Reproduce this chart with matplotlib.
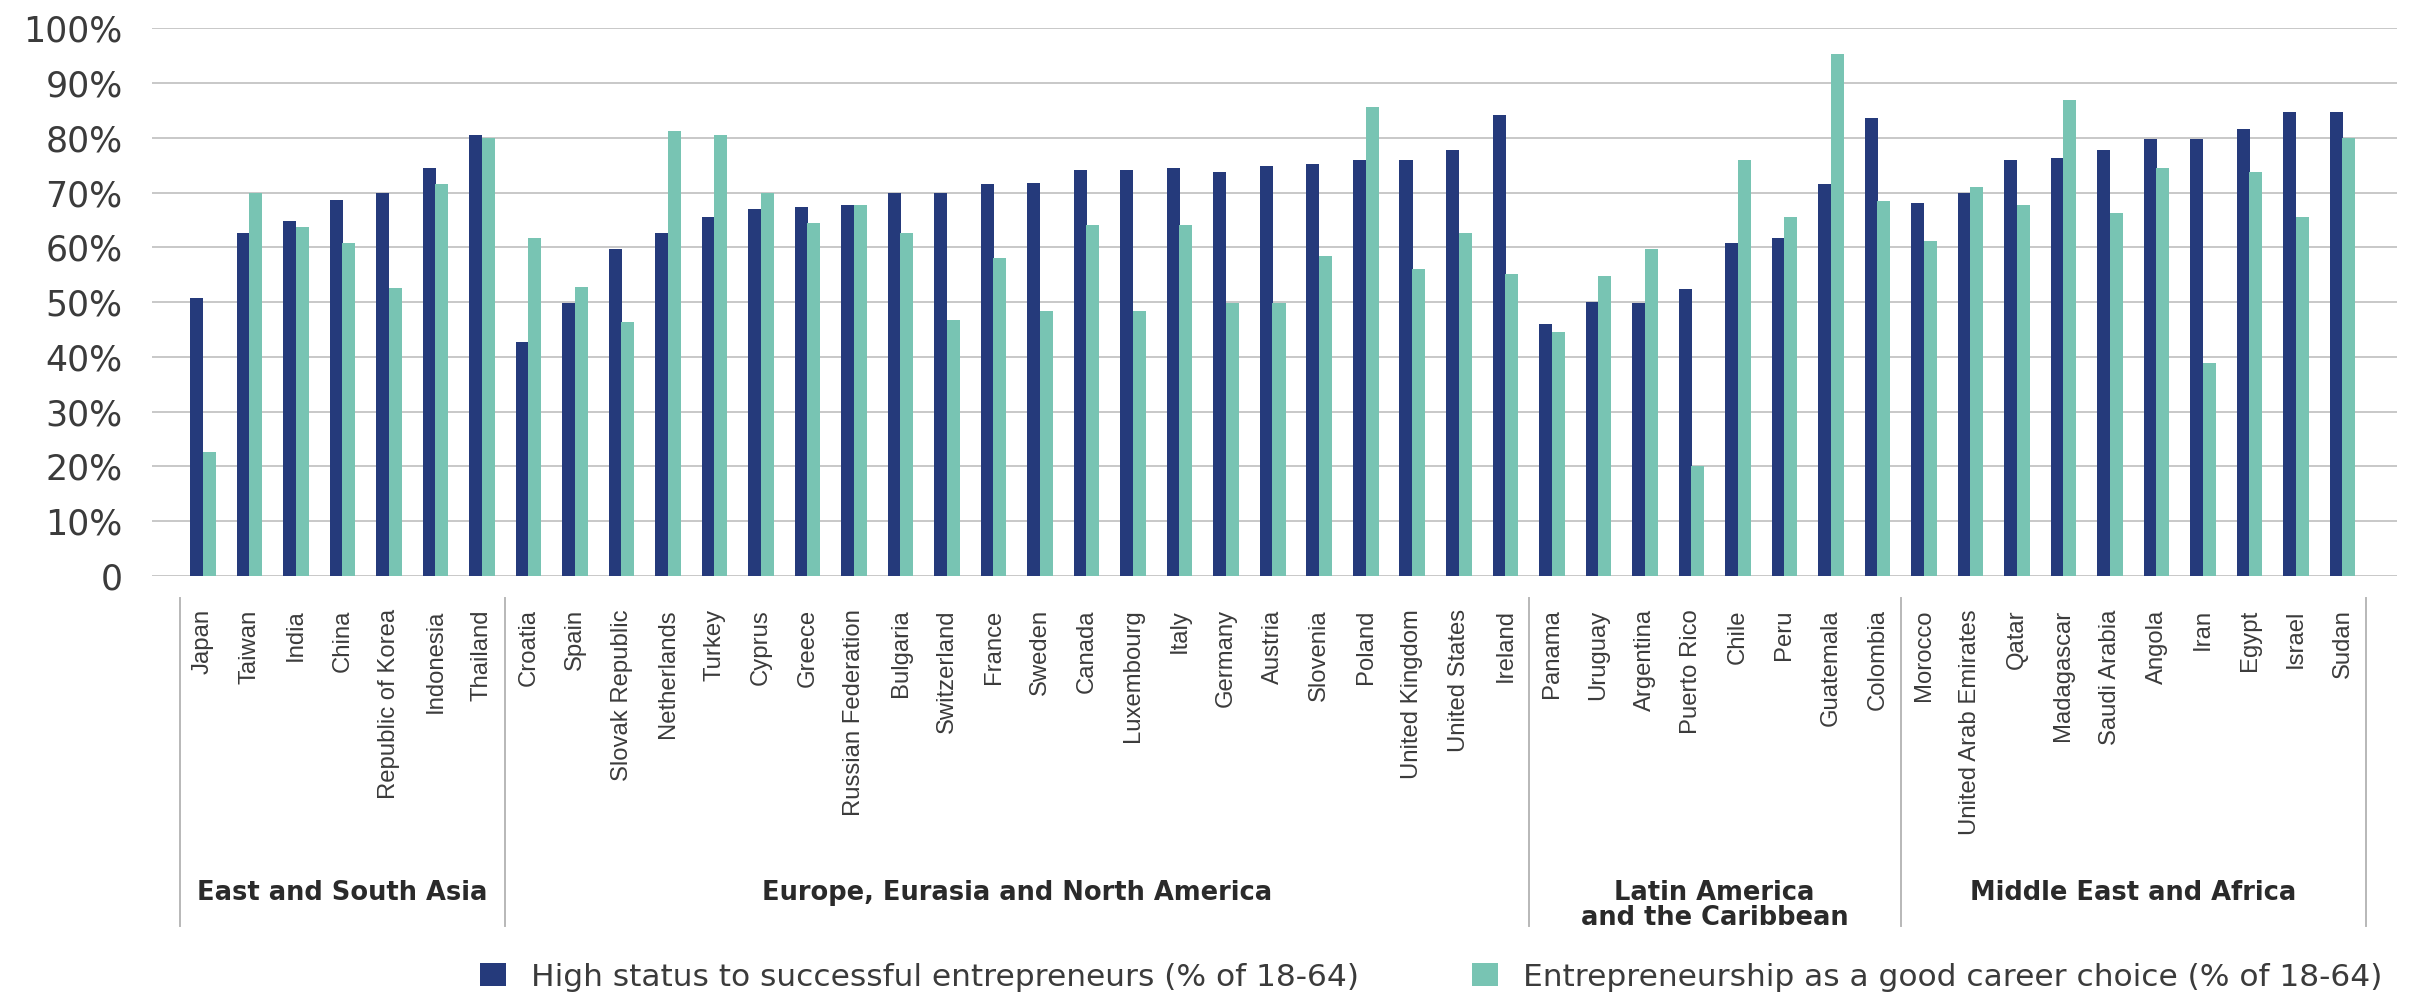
import matplotlib
matplotlib.use("Agg")
import matplotlib.pyplot as plt
from matplotlib import font_manager
from matplotlib.patches import Patch
from matplotlib.transforms import blended_transform_factory
import numpy as np

# ---- data -------------------------------------------------------------
region_names = [
    "East and South Asia",
    "Europe, Eurasia and North America",
    "Latin America\nand the Caribbean",
    "Middle East and Africa",
]

asia = ["Japan", "Taiwan", "India", "China", "Republic of Korea", "Indonesia", "Thailand"]
europe = ["Croatia", "Spain", "Slovak Republic", "Netherlands", "Turkey", "Cyprus", "Greece",
          "Russian Federation", "Bulgaria", "Switzerland", "France", "Sweden", "Canada",
          "Luxembourg", "Italy", "Germany", "Austria", "Slovenia", "Poland", "United Kingdom",
          "United States", "Ireland"]
latam = ["Panama", "Uruguay", "Argentina", "Puerto Rico", "Chile", "Peru", "Guatemala", "Colombia"]
mea = ["Morocco", "United Arab Emirates", "Qatar", "Madagascar", "Saudi Arabia", "Angola",
       "Iran", "Egypt", "Israel", "Sudan"]

# High status to successful entrepreneurs (% of 18-64)
high_status = [
    50.8, 62.7, 64.9, 68.6, 70.0, 74.5, 80.5,
    42.8, 49.8, 59.7, 62.6, 65.5, 67.0, 67.4, 67.8, 70.0, 70.0, 71.5, 71.8, 74.1, 74.1,
    74.5, 73.8, 74.9, 75.3, 76.0, 76.0, 77.8, 84.1,
    46.0, 50.1, 49.8, 52.4, 60.8, 61.8, 71.5, 83.6,
    68.1, 70.0, 76.0, 76.4, 77.8, 79.7, 79.7, 81.7, 84.8, 84.8,
]
# Entrepreneurship as a good career choice (% of 18-64)
good_career = [
    22.6, 70.0, 63.8, 60.8, 52.5, 71.5, 80.0,
    61.8, 52.8, 46.4, 81.3, 80.5, 70.0, 64.5, 67.8, 62.6, 46.8, 58.0, 48.3, 64.1, 48.3,
    64.1, 49.8, 49.8, 58.5, 85.7, 56.0, 62.6, 55.2,
    44.5, 54.8, 59.7, 20.1, 76.0, 65.5, 95.3, 68.5,
    61.1, 71.1, 67.8, 86.9, 66.3, 74.5, 38.9, 73.8, 65.5, 80.0,
]

series_labels = ["High status to successful entrepreneurs (% of 18-64)",
                 "Entrepreneurship as a good career choice (% of 18-64)"]
y_ticks = [0, 10, 20, 30, 40, 50, 60, 70, 80, 90, 100]
y_tick_labels = ["0", "10%", "20%", "30%", "40%", "50%", "60%", "70%", "80%", "90%", "100%"]

# ---- styling ----------------------------------------------------------
NAVY = "#253a7b"
TEAL = "#78c4b3"
GRID = "#c4c4c4"
TEXT = "#3b3b3b"

W, H = 2423, 993
fig = plt.figure(figsize=(W / 100, H / 100), dpi=100)
ax = fig.add_axes([151.7 / W, 1 - 576 / H, (2397 - 151.7) / W, (576 - 28.3) / H])

groups = [asia, europe, latam, mea]
countries = [c for g in groups for c in g]
x = np.arange(len(countries))
bw = 0.28
ax.bar(x - 0.135, high_status, width=bw, color=NAVY, zorder=3, label=series_labels[0])
ax.bar(x + 0.135, good_career, width=bw, color=TEAL, zorder=4, label=series_labels[1])

ax.set_xlim(-1.10, len(countries) - 1 + 1.17)
ax.set_ylim(0, 100)
ax.set_yticks(y_ticks)
ax.set_yticklabels(y_tick_labels, fontsize=25, color=TEXT, family="DejaVu Sans")
ax.tick_params(axis="y", length=0, pad=21)
ax.yaxis.grid(True, color=GRID, linewidth=1.3, zorder=0)
ax.set_axisbelow(True)
for s in ax.spines.values():
    s.set_visible(False)

# country names, rotated under each pair of bars
names = {f.name for f in font_manager.fontManager.ttflist}
label_family = "Liberation Sans Narrow" if "Liberation Sans Narrow" in names else "Liberation Sans"
ax.set_xticks(x)
ax.set_xticklabels(countries, rotation=90, family=label_family, fontsize=20, color=TEXT)
ax.tick_params(axis="x", length=0, pad=24)

# size the country names so the longest one spans its column depth
fig.canvas.draw()
renderer = fig.canvas.get_renderer()
longest = ax.get_xticklabels()[countries.index("United Arab Emirates")]
h = longest.get_window_extent(renderer).height
fs = 20 * 225.0 / h
for t in ax.get_xticklabels():
    t.set_fontsize(fs)

# region separators and region names below the country names
trans = blended_transform_factory(ax.transData, fig.transFigure)
bounds = np.cumsum([0] + [len(g) for g in groups]) - 0.5
for b in bounds:
    ax.plot([b, b], [1 - 598 / H, 1 - 926 / H], transform=trans, color="#b8b8b8",
            linewidth=1.4, clip_on=False, zorder=1)
for i, name in enumerate(region_names):
    cx = (bounds[i] + bounds[i + 1]) / 2
    ax.text(cx, 1 - 880 / H, name, transform=trans, ha="center", va="top",
            fontsize=18.5, fontweight="bold", color="#2a2a2a", family="DejaVu Sans",
            linespacing=0.95)

# legend along the bottom
handles = [Patch(facecolor=NAVY, edgecolor="none"), Patch(facecolor=TEAL, edgecolor="none")]
leg = fig.legend(handles, series_labels, loc="center", bbox_to_anchor=(1431 / W, 1 - 977 / H),
                 ncol=2, frameon=False, fontsize=22.5, handlelength=0.84, handleheight=0.74,
                 handletextpad=0.8, columnspacing=3.6, borderaxespad=0, borderpad=0)
for t in leg.get_texts():
    t.set_color(TEXT)

fig.savefig("out.png", dpi=100, facecolor="white")
